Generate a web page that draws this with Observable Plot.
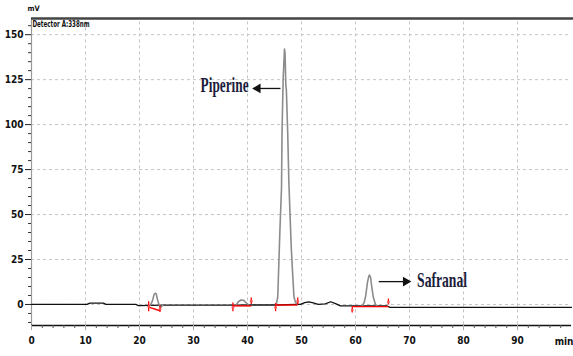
<!DOCTYPE html>
<html>
<head>
<meta charset="utf-8">
<script src="https://cdn.jsdelivr.net/npm/d3@7"></script>
<script src="https://cdn.jsdelivr.net/npm/@observablehq/plot@0.6"></script>
<style>
  html, body { margin: 0; padding: 0; background: #fff; }
  svg { display: block; }
</style>
</head>
<body>
<div id="chart"></div>
<script>
// ---- data ----
const xTicks = [0, 10, 20, 30, 40, 50, 60, 70, 80, 90];
const xMinor = d3.range(0, 101, 2).filter(d => d % 10 !== 0);
const yTicks = [0, 25, 50, 75, 100, 125, 150];
const yMinor = [-10, -5, 5, 10, 15, 20, 30, 35, 40, 45, 55, 60, 65, 70, 80, 85, 90, 95, 105, 110, 115, 120, 130, 135, 140, 145, 155];

// baseline trace (black)
const traceTime   = [0, 10.3, 10.8, 13.3, 13.8, 19.3, 19.8, 24.3, 37.9, 40.2, 45.3, 49.2, 49.8, 50.6, 51.3, 52.0, 53.1, 54.4, 55.4, 56.3, 57.2, 65.8, 66.4, 100];
const traceSignal = [0, 0, 0.7, 0.7, 0, 0, -0.6, -0.4, -0.4, -0.3, -0.3, 0, 0, 1.0, 1.5, 1.0, 0, 0.3, 1.5, 0.5, -0.8, -0.8, -1.6, -1.6];

// peaks (grey)
const peak1Time   = [22.0, 22.4, 22.7, 22.9, 23.1, 23.3, 23.6, 23.9, 24.3];
const peak1Signal = [-0.6, 2, 5.5, 6.2, 6.0, 3, 0, -1.8, -0.4];
const peak2Time   = [37.9, 38.3, 38.8, 39.3, 39.8, 40.2];
const peak2Signal = [-0.4, 1.5, 2.5, 2.3, 0.8, -0.3];
const piperineTime   = [45.3, 45.6, 46.0, 46.3, 46.4, 46.6, 46.85, 46.95, 47.1, 47.2, 47.45, 47.65, 47.9, 48.1, 48.4, 48.6, 48.9, 49.2];
const piperineSignal = [-0.3, 4, 41, 65, 97, 125, 142, 140, 122, 119, 95, 69, 48, 32, 15, 4.3, 1, 0.3];
const safranalTime   = [61.2, 61.6, 61.9, 62.2, 62.45, 62.6, 62.8, 63.0, 63.3, 63.7, 64.0];
const safranalSignal = [-0.8, 1, 5, 12, 15.5, 16.4, 15, 10, 4, 0, -0.8];

// integration marks (red)
const intStart      = [21.7, 37.3, 45.2, 59.4];
const intEnd        = [23.8, 40.7, 49.3, 66.1];
const intStartLevel = [-1.5, -0.8, -0.3, -1.2];
const intEndLevel   = [-3.5, -0.8, -0.3, -1.2];
const markerTime    = [21.7, 23.8, 37.3, 40.7, 45.2, 49.3, 59.4, 66.1];
const markerTop     = [1.5, -0.8, 0.8, 3.6, 0.5, 3.6, -1.5, 3.0];
const markerBottom  = [-4.0, -4.5, -4.0, 0.0, -4.0, 0.0, -4.7, -0.3];

// labels
const labelNames = ["Piperine", "Safranal"];
const labelTime  = [40.2, 71.4];
const labelLevel = [121.9, 13.6];
const arrowFrom  = [46.1, 64.3];
const arrowTo    = [41.9, 69.3];
const arrowLevel = [120.1, 12.7];

// ---- build tables ----
const zip = (xs, ys) => xs.map((x, i) => ({x, y: ys[i]}));
const trace = zip(traceTime, traceSignal);
const peaks = [zip(peak1Time, peak1Signal), zip(peak2Time, peak2Signal), zip(piperineTime, piperineSignal), zip(safranalTime, safranalSignal)];
const integ = intStart.map((s, i) => ({x1: s, x2: intEnd[i], y1: intStartLevel[i], y2: intEndLevel[i]}));
const markers = markerTime.map((t, i) => ({x: t, y1: markerTop[i], y2: markerBottom[i]}));
const labels = labelNames.map((n, i) => ({name: n, x: labelTime[i], y: labelLevel[i]}));
const arrows = arrowFrom.map((f, i) => ({x1: f, x2: arrowTo[i], y: arrowLevel[i], rot: arrowTo[i] > f ? 90 : -90}));

const yMin = -11.7, yMax = 159;
const axisFont = "'Liberation Sans Narrow','DejaVu Sans Condensed','Arial Narrow',sans-serif";
const serif = "'Liberation Serif','DejaVu Serif',serif";

const svg = Plot.plot({
  width: 573,
  height: 356,
  marginLeft: 31,
  marginRight: 2,
  marginTop: 18,
  marginBottom: 31,
  x: {domain: [0, 100], axis: null},
  y: {domain: [yMin, yMax], axis: null},
  style: {fontFamily: axisFont, fontSize: "10px", fontWeight: "bold", color: "#111", background: "#fff"},
  marks: [
    // grid
    Plot.ruleY(yTicks, {stroke: "#c4c4c4", strokeDasharray: "3,3", strokeWidth: 1}),
    Plot.ruleX(xTicks.filter(d => d > 0), {stroke: "#c4c4c4", strokeDasharray: "3,3", strokeWidth: 1, y1: yMin - 3, y2: yMax}),
    // frame
    Plot.ruleX([0], {stroke: "#9a9a9a", strokeWidth: 1.2}),
    Plot.ruleY([yMax], {stroke: "#444", strokeWidth: 2.5, x1: 0, x2: 100.5}),
    Plot.ruleY([yMin], {stroke: "#111", strokeWidth: 1.5}),
    // axes
    Plot.axisY(yTicks, {tickSize: 6, tickPadding: 2, stroke: "#222", fontWeight: "bold", fill: "#111"}),
    Plot.axisY(yMinor, {tickSize: 3, tickFormat: () => "", stroke: "#333"}),
    Plot.axisX(xTicks, {tickSize: 5, tickPadding: 6, stroke: "#aaa", fontWeight: "bold", fill: "#111"}),
    Plot.axisX(xMinor, {tickSize: 3, tickFormat: () => "", stroke: "#555"}),
    // trace
    Plot.line(trace, {x: "x", y: "y", stroke: "#111", strokeWidth: 1.3}),
    ...peaks.map(p => Plot.line(p, {x: "x", y: "y", stroke: "#8c8c8c", strokeWidth: 1.6})),
    // integration
    Plot.link(integ, {x1: "x1", x2: "x2", y1: "y1", y2: "y2", stroke: "#f00", strokeWidth: 1.4}),
    Plot.ruleX(markers, {x: "x", y1: "y1", y2: "y2", stroke: "#f00", strokeWidth: 1.3}),
    Plot.dot(markers, {x: "x", y: d => (d.y1 + d.y2) / 2, r: 1.4, fill: "#f55", stroke: null}),
    // annotations
    Plot.link(arrows, {x1: "x1", x2: "x2", y1: "y", y2: "y", stroke: "#111", strokeWidth: 1.3}),
    Plot.dot(arrows, {x: "x2", y: "y", symbol: "triangle", r: 3.6, fill: "#111", stroke: null, rotate: "rot"}),
    Plot.text(labels.filter(d => d.name === "Piperine"), {x: "x", y: "y", text: "name", textAnchor: "end", fontFamily: serif, fontSize: 21, fontWeight: "bold", fill: "#1c1c3c"}),
    Plot.text(labels.filter(d => d.name === "Safranal"), {x: "x", y: "y", text: "name", textAnchor: "start", fontFamily: serif, fontSize: 21, fontWeight: "bold", fill: "#1c1c3c"}),
    // header texts
    Plot.text(["mV"], {frameAnchor: "top-left", dx: -4, dy: -13, fontSize: 7.5, fontWeight: "bold", fill: "#111"}),
    Plot.text(["Detector A:338nm"], {frameAnchor: "top-left", dx: 1, dy: 2, fontSize: 9, fontWeight: "bold", fill: "#111"}),
    Plot.text(["min"], {x: 100, y: yMin, dy: 16, textAnchor: "end", fontSize: 10, fontWeight: "bold", fill: "#111", dx: 2})
  ]
});

d3.select(svg).selectAll("text").each(function() {
  const t = this.textContent;
  if (t === "Piperine") { this.setAttribute("textLength", 48); this.setAttribute("lengthAdjust", "spacingAndGlyphs"); }
  if (t === "Safranal") { this.setAttribute("textLength", 50); this.setAttribute("lengthAdjust", "spacingAndGlyphs"); }
  if (t === "Detector A:338nm") { this.setAttribute("textLength", 57); this.setAttribute("lengthAdjust", "spacingAndGlyphs"); }
});

document.getElementById("chart").appendChild(svg);
</script>
</body>
</html>
